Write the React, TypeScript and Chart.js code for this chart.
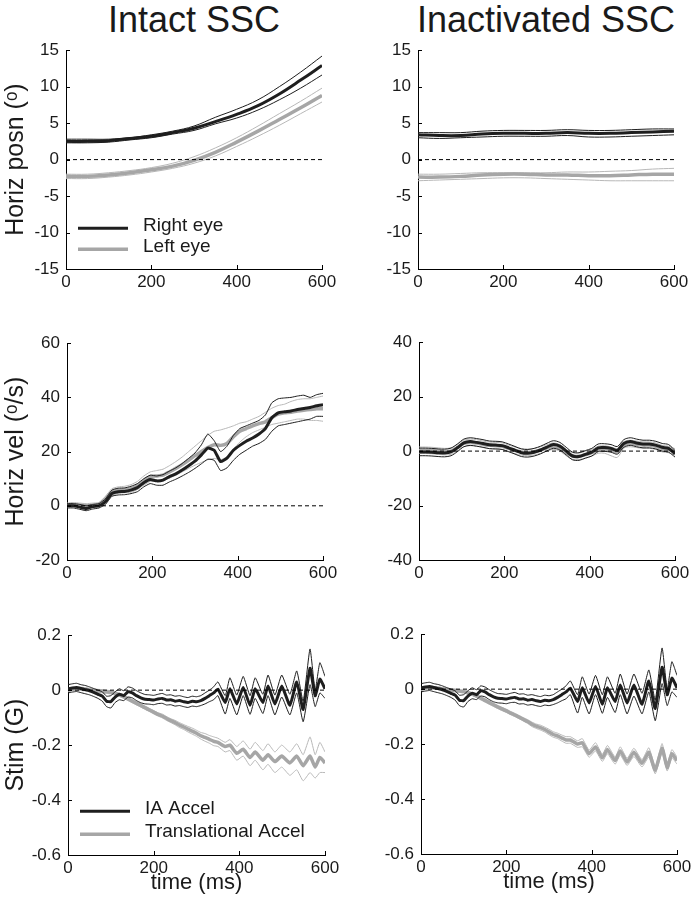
import React, { useEffect, useRef } from "react";
import { Chart, registerables } from "chart.js";

Chart.register(...registerables);

const FONT = '"Liberation Sans", Arial, Helvetica, sans-serif';
const TXT = "#1a1a1a";
const BLACK = "#1e1e1e";
const GRAY = "#a6a6a6";
const GRAY_THIN = "#b8b8b8";

// ---------- time bases ----------
const T_POS = [0, 50, 100, 150, 200, 250, 300, 350, 400, 450, 500, 550, 600];
const T_VEL = [0, 15, 30, 45, 60, 75, 90, 105, 120, 135, 150, 165, 180, 195, 210, 225, 240, 255, 270, 285, 300, 315, 330, 345, 360, 375, 390, 405, 420, 435, 450, 465, 480, 495, 510, 525, 540, 555, 570, 585, 600];
const T_STIM = [0, 10, 20, 30, 40, 50, 60, 70, 80, 90, 100, 110, 120, 130, 140, 150, 160, 170, 180, 190, 200, 210, 220, 230, 240, 250, 260, 270, 280, 290, 300, 310, 320, 330, 340, 350, 367, 378, 394, 409, 425, 437, 455, 467, 483, 499, 518, 534, 549, 565, 577, 588, 600];
const ZERO_X = [0, 600];
const ZERO_Y = [0, 0];

// ---------- Intact SSC: horizontal position ----------
const POS_INT_R_MEAN = [2.5, 2.5, 2.6, 2.9, 3.2, 3.7, 4.3, 5.2, 6.2, 7.4, 9.0, 10.9, 12.9];
const POS_INT_R_UP = [2.8, 2.8, 2.8, 3.0, 3.4, 3.9, 4.6, 5.8, 6.9, 8.2, 10.0, 12.0, 14.2];
const POS_INT_R_LO = [2.3, 2.3, 2.4, 2.7, 3.0, 3.5, 4.0, 4.9, 5.7, 6.8, 8.2, 9.8, 11.6];
const POS_INT_L_MEAN = [-2.3, -2.3, -2.1, -1.8, -1.4, -0.9, -0.1, 1.0, 2.4, 3.9, 5.5, 7.1, 8.8];
const POS_INT_L_UP = [-2.0, -2.0, -1.8, -1.5, -1.1, -0.5, 0.4, 1.6, 3.0, 4.6, 6.3, 8.0, 9.8];
const POS_INT_L_LO = [-2.6, -2.6, -2.4, -2.1, -1.7, -1.2, -0.5, 0.5, 1.8, 3.2, 4.7, 6.3, 7.9];

// ---------- Inactivated SSC: horizontal position ----------
const POS_INA_R_MEAN = [3.4, 3.3, 3.3, 3.5, 3.6, 3.6, 3.6, 3.7, 3.6, 3.6, 3.7, 3.8, 3.9];
const POS_INA_R_UP = [3.7, 3.7, 3.7, 3.9, 4.0, 4.0, 4.0, 4.1, 4.0, 4.0, 4.1, 4.2, 4.2];
const POS_INA_R_LO = [3.0, 2.9, 3.0, 3.1, 3.2, 3.2, 3.2, 3.3, 3.1, 3.1, 3.2, 3.3, 3.4];
const POS_INA_L_MEAN = [-2.4, -2.4, -2.3, -2.1, -2.0, -2.0, -2.1, -2.1, -2.2, -2.2, -2.1, -2.0, -2.0];
const POS_INA_L_UP = [-2.0, -2.0, -1.9, -1.8, -1.8, -1.8, -1.8, -1.7, -1.7, -1.6, -1.5, -1.3, -1.2];
const POS_INA_L_LO = [-2.9, -2.8, -2.7, -2.6, -2.5, -2.5, -2.6, -2.7, -2.8, -2.9, -2.9, -2.9, -2.9];

// ---------- Intact SSC: horizontal velocity ----------
const VEL_INT_R_MEAN = [0, 0, -0.5, -1, -0.3, 0, 1.5, 4.5, 5.2, 5.3, 5.8, 6.7, 8.5, 9.7, 9.2, 9.5, 10.8, 11.8, 13.2, 14.8, 16.5, 18.8, 21.3, 20.5, 16.3, 17.6, 20.5, 22.3, 23.8, 25, 26.5, 28.5, 32.5, 34.3, 34.7, 35, 35.5, 35.9, 36.3, 36.9, 37.3];
const VEL_INT_R_UP = [0.8, 0.8, 0.5, 0, 0.5, 0.8, 2.5, 5.8, 6.5, 6.6, 7.2, 8.2, 10, 11.3, 11, 11.5, 12.8, 14, 15.6, 17.5, 19.5, 22.5, 26.5, 24, 20, 22, 26, 28.5, 29.5, 30.5, 31.5, 33.5, 38, 39.5, 39.8, 40, 40.5, 40.8, 40, 41, 41.5];
const VEL_INT_R_LO = [-0.8, -0.8, -1.3, -1.8, -1.2, -0.8, 0.5, 3.5, 4, 4.1, 4.5, 5.2, 7, 8.2, 7.6, 7.6, 8.8, 9.8, 11, 12.3, 13.8, 15.5, 17.2, 16.8, 13, 14, 16.8, 19, 20.5, 22, 23, 24.5, 27.5, 29.5, 30, 30.5, 31, 31.5, 32, 33, 33];
const VEL_INT_L_MEAN = [0.3, 0.5, 0.2, 0, 0.2, 0.5, 2.5, 5, 5.8, 6, 6.3, 7.5, 9.3, 10.8, 11, 11.3, 12.5, 13.8, 15.2, 16.8, 18.5, 20, 21.5, 22.5, 22.3, 23, 25.5, 27.5, 28.5, 29.5, 30.3, 31, 32.5, 33.8, 34.3, 34.5, 35, 35.3, 35.5, 35.8, 35.8];
const VEL_INT_L_UP = [1, 1.2, 1, 0.8, 1, 1.2, 3.5, 6.3, 7, 7.2, 7.8, 9, 11, 12.5, 13, 13.5, 14.8, 16.3, 18, 20, 22, 24, 26, 27.5, 28, 28.7, 29.5, 30.5, 31, 32, 33, 34.5, 36, 37, 37.5, 38.5, 39.2, 39.5, 39.5, 40, 40.5];
const VEL_INT_L_LO = [-0.4, -0.2, -0.6, -0.8, -0.6, -0.2, 1.5, 3.8, 4.6, 4.8, 5, 6, 7.6, 9, 9, 9.2, 10.2, 11.3, 12.5, 13.8, 15, 16, 17, 17.5, 17, 18, 21, 23.5, 25.5, 27, 28, 29, 30, 30.5, 31, 31.5, 32, 32, 31.5, 31.5, 31.2];

// ---------- Inactivated SSC: horizontal velocity ----------
const VEL_INA_R_MEAN = [-0.3, -0.3, -0.4, -0.6, -0.7, -0.3, 1.2, 3, 3.5, 3.2, 2.8, 2.3, 2.2, 2, 1.2, 0.3, -0.6, -0.8, -0.4, 0.4, 1.5, 2.4, 1.8, 0, -1.8, -2, -1.2, -0.4, 1.2, 1.3, 1, 0.3, 2.8, 3.5, 3, 2.6, 2.6, 2.2, 1.4, 1, -1];
const VEL_INA_R_UP = [1.1, 1.1, 1, 0.8, 0.7, 1.1, 2.6, 4.4, 4.9, 4.6, 4.2, 3.7, 3.6, 3.4, 2.6, 1.7, 0.8, 0.6, 1, 1.8, 2.9, 3.8, 3.2, 1.4, -0.4, -0.6, 0.2, 1, 2.6, 2.7, 2.4, 1.7, 4.2, 4.9, 4.4, 4, 4, 3.6, 2.8, 2.4, 0.2];
const VEL_INA_R_LO = [-1.7, -1.7, -1.8, -2, -2.1, -1.7, -0.2, 1.6, 2.1, 1.8, 1.4, 0.9, 0.8, 0.6, -0.2, -1.1, -2, -2.2, -1.8, -1, 0.1, 1, 0.4, -1.4, -3.2, -3.4, -2.6, -1.8, -0.2, -0.1, -0.4, -1.1, 1.4, 2.1, 1.6, 1.2, 1.2, 0.8, 0, -0.4, -2.2];
const VEL_INA_L_MEAN = [0.3, 0.3, 0.2, 0, -0.2, 0, 1.3, 2.8, 3.2, 3, 2.5, 2.1, 2, 1.8, 1, 0.3, -0.3, -0.5, -0.2, 0.4, 1.2, 1.8, 1.2, -0.5, -1.8, -1.9, -1.3, -0.6, 0.6, 0.8, 0.3, -0.2, 2.3, 2.8, 2.5, 2.2, 2.2, 1.8, 0.9, 0.6, -0.3];
const VEL_INA_L_UP = [1.5, 1.5, 1.4, 1.2, 1, 1.2, 2.5, 4, 4.4, 4.2, 3.7, 3.3, 3.2, 3, 2.2, 1.5, 0.9, 0.7, 1, 1.6, 2.4, 3, 2.4, 0.7, -0.6, -0.7, -0.1, 0.6, 1.8, 2, 1.5, 1, 3.5, 4, 3.7, 3.4, 3.4, 3, 2.1, 1.8, 0.9];
const VEL_INA_L_LO = [-0.9, -0.9, -1, -1.2, -1.4, -1.2, 0.1, 1.6, 2, 1.8, 1.3, 0.9, 0.8, 0.6, -0.2, -0.9, -1.5, -1.7, -1.4, -0.8, 0, 0.6, 0, -1.7, -3, -3.1, -2.5, -1.8, -0.8, -0.8, -1.7, -2.3, 1.1, 1.6, 1.3, 1, 1, 0.6, -0.3, -0.6, -1.5];

// ---------- Stimulus: IA acceleration (same in both columns) ----------
const IA_MEAN = [0.005, 0.008, 0.01, 0.006, 0.002, -0.002, -0.008, -0.015, -0.022, -0.04, -0.042, -0.025, -0.015, -0.02, -0.006, -0.01, -0.02, -0.028, -0.033, -0.034, -0.036, -0.032, -0.03, -0.036, -0.035, -0.04, -0.038, -0.042, -0.045, -0.04, -0.042, -0.038, -0.03, -0.02, -0.01,
  0.004, -0.045, 0.005, -0.05, 0.01, -0.055, 0.005, -0.045, 0.015, -0.05, 0.015, -0.055, 0.03, -0.07, 0.08, -0.02, 0.04, 0.005];
const IA_UP = [0.02, 0.023, 0.025, 0.02, 0.017, 0.012, 0.006, 0, -0.006, -0.022, -0.02, -0.006, 0.005, -0.002, 0.012, 0.008, -0.002, -0.01, -0.016, -0.017, -0.019, -0.015, -0.012, -0.018, -0.017, -0.022, -0.02, -0.024, -0.027, -0.022, -0.024, -0.02, -0.01, 0, 0.012,
  0.03, -0.02, 0.045, -0.018, 0.05, -0.02, 0.045, -0.015, 0.055, -0.018, 0.055, -0.015, 0.07, -0.04, 0.15, 0, 0.1, 0.05];
const IA_LO = [-0.01, -0.007, -0.005, -0.009, -0.013, -0.017, -0.023, -0.03, -0.04, -0.06, -0.065, -0.045, -0.035, -0.038, -0.025, -0.028, -0.038, -0.046, -0.05, -0.051, -0.053, -0.049, -0.048, -0.054, -0.053, -0.058, -0.056, -0.06, -0.063, -0.058, -0.06, -0.056, -0.05, -0.042, -0.035,
  -0.02, -0.087, -0.03, -0.09, -0.02, -0.088, -0.03, -0.085, -0.02, -0.09, -0.025, -0.09, -0.01, -0.115, 0.02, -0.06, -0.01, -0.03];

// ---------- Stimulus: translational acceleration ----------
const TA_INT_MEAN = [0, 0.004, 0.006, 0.005, 0.003, 0.001, -0.001, -0.003, -0.004, -0.006, -0.008, -0.012, -0.017, -0.024, -0.032, -0.04, -0.048, -0.056, -0.064, -0.072, -0.08, -0.088, -0.094, -0.103, -0.111, -0.118, -0.127, -0.134, -0.142, -0.149, -0.157, -0.166, -0.172, -0.179, -0.186,
  -0.19, -0.205, -0.2, -0.23, -0.215, -0.245, -0.225, -0.255, -0.235, -0.26, -0.24, -0.265, -0.24, -0.275, -0.24, -0.28, -0.245, -0.265];
const TA_INT_UP = [0.006, 0.01, 0.012, 0.011, 0.009, 0.007, 0.005, 0.003, 0.002, 0, -0.002, -0.006, -0.011, -0.018, -0.026, -0.034, -0.042, -0.05, -0.058, -0.066, -0.074, -0.082, -0.087, -0.096, -0.104, -0.11, -0.118, -0.125, -0.132, -0.138, -0.146, -0.154, -0.158, -0.165, -0.17,
  -0.175, -0.19, -0.18, -0.205, -0.185, -0.215, -0.19, -0.22, -0.195, -0.225, -0.2, -0.225, -0.195, -0.235, -0.17, -0.235, -0.19, -0.225];
const TA_INT_LO = [-0.006, -0.002, 0, -0.001, -0.003, -0.005, -0.007, -0.009, -0.01, -0.012, -0.014, -0.018, -0.023, -0.03, -0.038, -0.046, -0.054, -0.062, -0.07, -0.078, -0.086, -0.094, -0.101, -0.11, -0.118, -0.126, -0.136, -0.143, -0.152, -0.16, -0.168, -0.178, -0.186, -0.193, -0.202,
  -0.205, -0.225, -0.22, -0.255, -0.24, -0.275, -0.255, -0.29, -0.27, -0.3, -0.28, -0.31, -0.29, -0.33, -0.3, -0.32, -0.3, -0.3];
const TA_INA_MEAN = [0, 0.004, 0.006, 0.005, 0.003, 0.001, -0.001, -0.003, -0.005, -0.007, -0.009, -0.013, -0.018, -0.025, -0.033, -0.041, -0.049, -0.057, -0.065, -0.072, -0.079, -0.087, -0.094, -0.102, -0.11, -0.118, -0.128, -0.135, -0.14, -0.147, -0.156, -0.165, -0.17, -0.178, -0.185,
  -0.185, -0.2, -0.195, -0.235, -0.21, -0.25, -0.22, -0.26, -0.225, -0.265, -0.23, -0.27, -0.23, -0.295, -0.215, -0.285, -0.235, -0.26];
const TA_INA_UP = [0.005, 0.009, 0.011, 0.01, 0.008, 0.006, 0.004, 0.002, 0, -0.002, -0.004, -0.008, -0.013, -0.019, -0.027, -0.035, -0.043, -0.051, -0.059, -0.066, -0.073, -0.081, -0.088, -0.096, -0.104, -0.111, -0.12, -0.127, -0.131, -0.138, -0.146, -0.155, -0.16, -0.167, -0.173,
  -0.173, -0.188, -0.18, -0.222, -0.195, -0.237, -0.205, -0.247, -0.21, -0.252, -0.215, -0.257, -0.213, -0.282, -0.198, -0.272, -0.22, -0.247];
const TA_INA_LO = [-0.005, -0.001, 0.001, 0, -0.002, -0.004, -0.006, -0.008, -0.01, -0.012, -0.014, -0.018, -0.023, -0.031, -0.039, -0.047, -0.055, -0.063, -0.071, -0.078, -0.085, -0.093, -0.1, -0.108, -0.116, -0.125, -0.136, -0.143, -0.149, -0.156, -0.166, -0.175, -0.18, -0.189, -0.197,
  -0.197, -0.212, -0.21, -0.248, -0.225, -0.263, -0.235, -0.273, -0.24, -0.278, -0.245, -0.283, -0.247, -0.308, -0.232, -0.298, -0.25, -0.273];

// ---------- text ----------
const COLUMN_TITLES = ["Intact SSC", "Inactivated SSC"];
const Y_TITLES = ["Horiz posn (\u1d52)", "Horiz vel (\u1d52/s)", "Stim (G)"];
const X_TITLE = "time (ms)";
const EYE_LEGEND = ["Right eye", "Left eye"];
const ACCEL_LEGEND = ["IA Accel", "Translational Accel"];

type Band = { mean: number[]; up: number[]; lo: number[] };
type LegendItem = { label: string; color: string; width: number; dy: number };
type PanelCfg = {
  col: number; cl: number; cr: number; ct: number; cb: number;
  yMin: number; yMax: number; yStep: number;
  yTitle?: string; xTitle?: string;
  t: number[]; dark: Band; light: Band; tension: number;
  legend?: LegendItem[];
};

const PANELS: PanelCfg[] = [
  { col: 0, cl: 66, cr: 322, ct: 49, cb: 269, yMin: -15, yMax: 15, yStep: 5, yTitle: Y_TITLES[0], t: T_POS, tension: 0.4,
    dark: { mean: POS_INT_R_MEAN, up: POS_INT_R_UP, lo: POS_INT_R_LO },
    light: { mean: POS_INT_L_MEAN, up: POS_INT_L_UP, lo: POS_INT_L_LO },
    legend: [
      { label: EYE_LEGEND[0], color: BLACK, width: 3, dy: 178 },
      { label: EYE_LEGEND[1], color: GRAY, width: 3.5, dy: 199 },
    ] },
  { col: 1, cl: 418, cr: 674, ct: 49, cb: 269, yMin: -15, yMax: 15, yStep: 5, t: T_POS, tension: 0.4,
    dark: { mean: POS_INA_R_MEAN, up: POS_INA_R_UP, lo: POS_INA_R_LO },
    light: { mean: POS_INA_L_MEAN, up: POS_INA_L_UP, lo: POS_INA_L_LO } },
  { col: 0, cl: 67, cr: 323, ct: 342, cb: 560, yMin: -20, yMax: 60, yStep: 20, yTitle: Y_TITLES[1], t: T_VEL, tension: 0.15,
    dark: { mean: VEL_INT_R_MEAN, up: VEL_INT_R_UP, lo: VEL_INT_R_LO },
    light: { mean: VEL_INT_L_MEAN, up: VEL_INT_L_UP, lo: VEL_INT_L_LO } },
  { col: 1, cl: 419, cr: 675, ct: 341, cb: 560, yMin: -40, yMax: 40, yStep: 20, t: T_VEL, tension: 0.3,
    dark: { mean: VEL_INA_R_MEAN, up: VEL_INA_R_UP, lo: VEL_INA_R_LO },
    light: { mean: VEL_INA_L_MEAN, up: VEL_INA_L_UP, lo: VEL_INA_L_LO } },
  { col: 0, cl: 68, cr: 325, ct: 634, cb: 855, yMin: -0.6, yMax: 0.2, yStep: 0.2, yTitle: Y_TITLES[2], xTitle: X_TITLE, t: T_STIM, tension: 0.15,
    dark: { mean: IA_MEAN, up: IA_UP, lo: IA_LO },
    light: { mean: TA_INT_MEAN, up: TA_INT_UP, lo: TA_INT_LO },
    legend: [
      { label: ACCEL_LEGEND[0], color: BLACK, width: 3, dy: 176 },
      { label: ACCEL_LEGEND[1], color: GRAY, width: 3.5, dy: 199 },
    ] },
  { col: 1, cl: 421, cr: 677, ct: 633, cb: 854, yMin: -0.6, yMax: 0.2, yStep: 0.2, xTitle: X_TITLE, t: T_STIM, tension: 0.15,
    dark: { mean: IA_MEAN, up: IA_UP, lo: IA_LO },
    light: { mean: TA_INA_MEAN, up: TA_INA_UP, lo: TA_INA_LO } },
];

function toPts(t: number[], y: number[]) {
  return t.map((x, i) => ({ x, y: y[i] }));
}

function line(t: number[], y: number[], color: string, width: number, tension: number, extra: any = {}) {
  return {
    data: toPts(t, y),
    borderColor: color,
    borderWidth: width,
    pointRadius: 0,
    fill: false,
    tension,
    borderJoinStyle: "round",
    ...extra,
  };
}

const innerTicks = {
  id: "innerTicks",
  afterDraw(chart: any) {
    const { ctx, chartArea, scales } = chart;
    ctx.save();
    ctx.strokeStyle = "#000";
    ctx.lineWidth = 1;
    ctx.beginPath();
    scales.x.ticks.forEach((tk: any) => {
      const px = Math.round(scales.x.getPixelForValue(tk.value)) + 0.5;
      ctx.moveTo(px, chartArea.bottom);
      ctx.lineTo(px, chartArea.bottom - 4);
    });
    scales.y.ticks.forEach((tk: any) => {
      const py = Math.round(scales.y.getPixelForValue(tk.value)) + 0.5;
      ctx.moveTo(chartArea.left, py);
      ctx.lineTo(chartArea.left + 4, py);
    });
    ctx.stroke();
    ctx.restore();
  },
};

function legendPlugin(items?: LegendItem[]) {
  return {
    id: "panelLegend",
    afterDraw(chart: any) {
      if (!items) return;
      const { ctx, chartArea } = chart;
      ctx.save();
      items.forEach((it) => {
        const y = chartArea.top + it.dy;
        ctx.strokeStyle = it.color;
        ctx.lineWidth = it.width;
        ctx.beginPath();
        ctx.moveTo(chartArea.left + 12, y);
        ctx.lineTo(chartArea.left + 62, y);
        ctx.stroke();
        ctx.fillStyle = TXT;
        ctx.font = `19px ${FONT}`;
        ctx.textBaseline = "middle";
        ctx.textAlign = "left";
        ctx.fillText(it.label, chartArea.left + 77, y - 2);
      });
      ctx.restore();
    },
  };
}

function fmt(v: number) {
  const r = Math.round(v * 10) / 10;
  return String(r === 0 ? 0 : r);
}

function Panel({ cfg }: { cfg: PanelCfg }) {
  const ref = useRef<HTMLCanvasElement>(null);
  const canvasLeft = cfg.col === 0 ? 0 : 350;
  const canvasW = 345;
  const xh = cfg.xTitle ? 44 : 30;
  const top = cfg.ct - 16;
  const height = cfg.cb + xh - top;
  const yw = cfg.cl - canvasLeft;
  const rightPad = canvasLeft + canvasW - cfg.cr;

  useEffect(() => {
    const t = cfg.t;
    const k = cfg.tension;
    const datasets: any[] = [
      line(ZERO_X, ZERO_Y, "#000", 1, 0, { borderDash: [4, 3] }),
      line(t, cfg.dark.mean, BLACK, 3, k),
      line(t, cfg.dark.up, BLACK, 1, k),
      line(t, cfg.dark.lo, BLACK, 1, k),
      line(t, cfg.light.mean, GRAY, 3.5, k),
      line(t, cfg.light.up, GRAY_THIN, 1, k),
      line(t, cfg.light.lo, GRAY_THIN, 1, k),
    ];
    const tickFont = { family: FONT, size: 17 };
    const chart = new Chart(ref.current as HTMLCanvasElement, {
      type: "line",
      data: { datasets },
      options: {
        responsive: false,
        animation: false,
        events: [],
        layout: { padding: { top: 16, right: rightPad, left: 0, bottom: 0 } },
        plugins: { legend: { display: false }, tooltip: { enabled: false } },
        scales: {
          x: {
            type: "linear",
            min: 0,
            max: 600,
            afterFit: (s: any) => { s.height = xh; },
            ticks: { stepSize: 200, padding: 3, font: tickFont, color: TXT, maxRotation: 0, autoSkip: false, callback: (v: any) => fmt(Number(v)) },
            grid: { display: true, drawOnChartArea: false, drawTicks: false },
            border: { display: true, color: "#000", width: 1 },
            title: { display: !!cfg.xTitle, text: cfg.xTitle || "", font: { family: FONT, size: 22 }, color: TXT, padding: { top: 0, bottom: 3 } },
          },
          y: {
            type: "linear",
            min: cfg.yMin,
            max: cfg.yMax,
            afterFit: (s: any) => { s.width = yw; },
            ticks: { stepSize: cfg.yStep, padding: 7, font: tickFont, color: TXT, autoSkip: false, callback: (v: any) => fmt(Number(v)) },
            grid: { display: true, drawOnChartArea: false, drawTicks: false },
            border: { display: true, color: "#000", width: 1 },
            title: { display: !!cfg.yTitle, text: cfg.yTitle || "", font: { family: FONT, size: 25 }, color: TXT, padding: { top: 1, bottom: 0 } },
          },
        },
      } as any,
      plugins: [innerTicks, legendPlugin(cfg.legend)],
    });
    return () => chart.destroy();
  }, []);

  return (
    <canvas
      ref={ref}
      width={canvasW}
      height={height}
      style={{ position: "absolute", left: canvasLeft, top, width: canvasW, height, display: "block" }}
    />
  );
}

export default function App() {
  return (
    <div style={{ position: "absolute", left: 0, top: 0, width: 695, height: 900, background: "#fff", overflow: "hidden" }}>
      {COLUMN_TITLES.map((title, i) => {
        const center = i === 0 ? (66 + 322) / 2 : (418 + 674) / 2;
        return (
          <div
            key={title}
            style={{
              position: "absolute",
              left: center - 170,
              width: 340,
              top: 0,
              textAlign: "center",
              fontFamily: FONT,
              fontSize: 36,
              lineHeight: "40px",
              color: TXT,
            }}
          >
            {title}
          </div>
        );
      })}
      {PANELS.map((p, i) => (
        <Panel key={i} cfg={p} />
      ))}
    </div>
  );
}
